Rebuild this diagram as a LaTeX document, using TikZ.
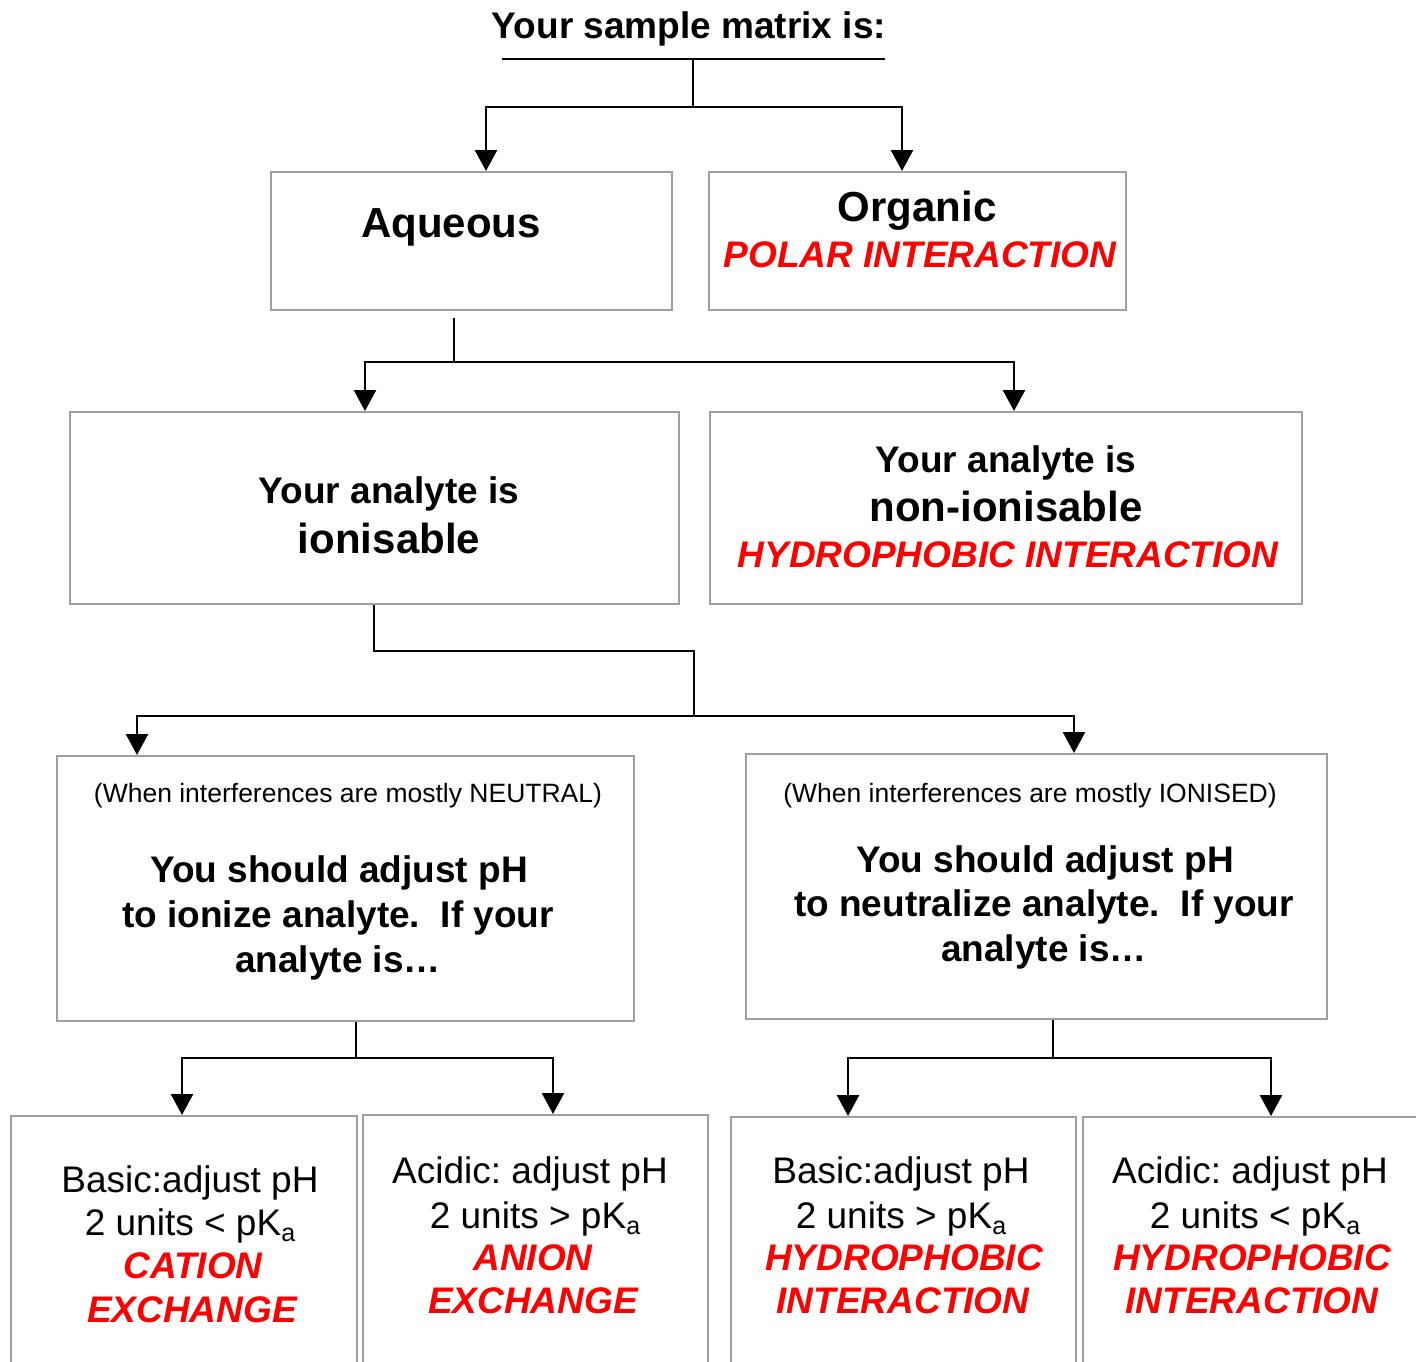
\documentclass[tikz,border=0pt]{standalone}
\usepackage{fontspec}
\setmainfont{Liberation Sans}
\usetikzlibrary{arrows.meta}
\frenchspacing
\newcommand{\corBorda}{gray!75}
\newcommand{\corFio}{black}
\newcommand{\corDestaque}{red}
\newcommand{\fonteG}{\fontsize{42}{50}\selectfont}
\newcommand{\fonteM}{\fontsize{37}{44}\selectfont}
\newcommand{\fonteP}{\fontsize{26.5}{32}\selectfont}
\newcommand{\subA}{\raisebox{-6pt}{\fontsize{25}{25}\selectfont a}}

\begin{document}
\begin{tikzpicture}[x=1pt, y=-1pt,
    caixa/.style={draw=\corBorda, line width=2pt, anchor=north west, inner sep=0pt},
    texto/.style={anchor=base, inner sep=0pt},
    forte/.style={texto, font=\fonteM\bfseries},
    destaque/.style={texto, font=\fonteM\bfseries\itshape, text=\corDestaque},
    fio/.style={draw=\corFio, line width=2.5pt},
    seta/.style={fio, -{Triangle[width=22pt, length=21pt]}}]
    \useasboundingbox (0,0) rectangle (1416,1361);

      % titulo
    \node[forte] (sample) at (689,38) {Your sample matrix is:};

      % caixa 0 copia 0
    \node[caixa, minimum width=401pt, minimum height=138pt] (aq) at (270,171) {};
    \node[texto, font=\fonteG\bfseries] (aqT) at (451,237) {Aqueous};

      % caixa 0 copia 1
    \node[caixa, minimum width=417pt, minimum height=138pt] (org) at (708,171) {};
    \node[texto, font=\fonteG\bfseries] (orgT) at (917,221) {Organic};
    \node[destaque] (orgR) at (920,267) {POLAR INTERACTION};

      % caixa 1 copia 0
    \node[caixa, minimum width=609pt, minimum height=192pt] (ion) at (69,411) {};
    \node[forte] (ionT) at (389,503) {Your analyte is};
    \node[texto, font=\fonteG\bfseries] (ionT2) at (389,553) {ionisable};

      % caixa 1 copia 1
    \node[caixa, minimum width=592pt, minimum height=192pt] (nonion) at (709,411) {};
    \node[forte] (nonionT) at (1006,472) {Your analyte is};
    \node[texto, font=\fonteG\bfseries] (nonionT2) at (1006,521) {non-ionisable};
    \node[destaque] (nonionR) at (1008,567) {HYDROPHOBIC INTERACTION};

      % caixa 2 copia 0
    \node[caixa, minimum width=577pt, minimum height=265pt] (neutro) at (56,755) {};
    \node[texto, font=\fonteP] (neutroP) at (348,802) {(When interferences are mostly NEUTRAL)};
    \node[forte] (neutroT1) at (339,882) {You should adjust pH};
    \node[forte] (neutroT2) at (338,927) {to ionize analyte.\ \ If your};
    \node[forte] (neutroT3) at (338,972) {analyte is…};

      % caixa 2 copia 1
    \node[caixa, minimum width=581pt, minimum height=265pt] (ionizado) at (745,753) {};
    \node[texto, font=\fonteP] (ionizadoP) at (1030,802) {(When interferences are mostly IONISED)};
    \node[forte] (ionizadoT1) at (1045,872) {You should adjust pH};
    \node[forte] (ionizadoT2) at (1044,916) {to neutralize analyte.\ \ If your};
    \node[forte] (ionizadoT3) at (1044,961) {analyte is…};

      % caixa 3 copia 0
    \node[caixa, minimum width=346pt, minimum height=270pt] (basico1) at (10,1115) {};
    \node[texto, font=\fonteM] (basico1T1) at (190,1192) {Basic:adjust pH};
    \node[texto, font=\fonteM] (basico1T2) at (190,1235) {2 units < pK\subA};
    \node[destaque] (basico1R1) at (193,1278) {CATION};
    \node[destaque] (basico1R2) at (192,1322) {EXCHANGE};

      % caixa 3 copia 1
    \node[caixa, minimum width=345pt, minimum height=270pt] (acido1) at (362,1114) {};
    \node[texto, font=\fonteM] (acido1T1) at (530,1183) {Acidic: adjust pH};
    \node[texto, font=\fonteM] (acido1T2) at (535,1228) {2 units > pK\subA};
    \node[destaque] (acido1R1) at (533,1270) {ANION};
    \node[destaque] (acido1R2) at (533,1313) {EXCHANGE};

      % caixa 3 copia 2
    \node[caixa, minimum width=345pt, minimum height=270pt] (basico2) at (730,1116) {};
    \node[texto, font=\fonteM] (basico2T1) at (901,1183) {Basic:adjust pH};
    \node[texto, font=\fonteM] (basico2T2) at (901,1228) {2 units > pK\subA};
    \node[destaque] (basico2R1) at (904,1270) {HYDROPHOBIC};
    \node[destaque] (basico2R2) at (903,1313) {INTERACTION};

      % caixa 3 copia 3
    \node[caixa, minimum width=345pt, minimum height=270pt] (acido2) at (1082,1116) {};
    \node[texto, font=\fonteM] (acido2T1) at (1250,1183) {Acidic: adjust pH};
    \node[texto, font=\fonteM] (acido2T2) at (1255,1228) {2 units < pK\subA};
    \node[destaque] (acido2R1) at (1252,1270) {HYDROPHOBIC};
    \node[destaque] (acido2R2) at (1252,1313) {INTERACTION};

      % ligacoes nivel 0
    \coordinate (t1) at (502,59);
    \coordinate (t2) at (885,59);
    \coordinate (j1) at (693,107);
    \draw[fio] (t1) -- (t2);
    \draw[fio] (t1 -| j1) -- (j1);
    \draw[seta] (j1) -| (486,0 |- aq.north);
    \draw[seta] (j1) -| (902,0 |- org.north);

      % ligacoes nivel 1
    \coordinate (j2) at (454,362);
    \draw[fio] ([yshift=-7pt]j2 |- aq.south) -- (j2);
    \draw[seta] (j2) -| (365,0 |- ion.north);
    \draw[seta] (j2) -| (1014,0 |- nonion.north);

      % ligacoes nivel 2
    \coordinate (j3) at (694,716);
    \draw[fio] (374,0 |- ion.south) |- (j3 |- 0,651) -- (j3);
    \draw[seta] (j3) -| (137,0 |- neutro.north);
    \draw[seta] (j3) -| (1074,0 |- ionizado.north);

      % ligacoes nivel 3
    \coordinate (j4) at (356,1058);
    \coordinate (j5) at (1053,1058);
    \draw[fio] (j4 |- neutro.south) -- (j4);
    \draw[seta] (j4) -| (182,0 |- basico1.north);
    \draw[seta] (j4) -| (553,0 |- acido1.north);
    \draw[fio] (j5 |- ionizado.south) -- (j5);
    \draw[seta] (j5) -| (848,0 |- basico2.north);
    \draw[seta] (j5) -| (1271,0 |- acido2.north);

\end{tikzpicture}
\end{document}
